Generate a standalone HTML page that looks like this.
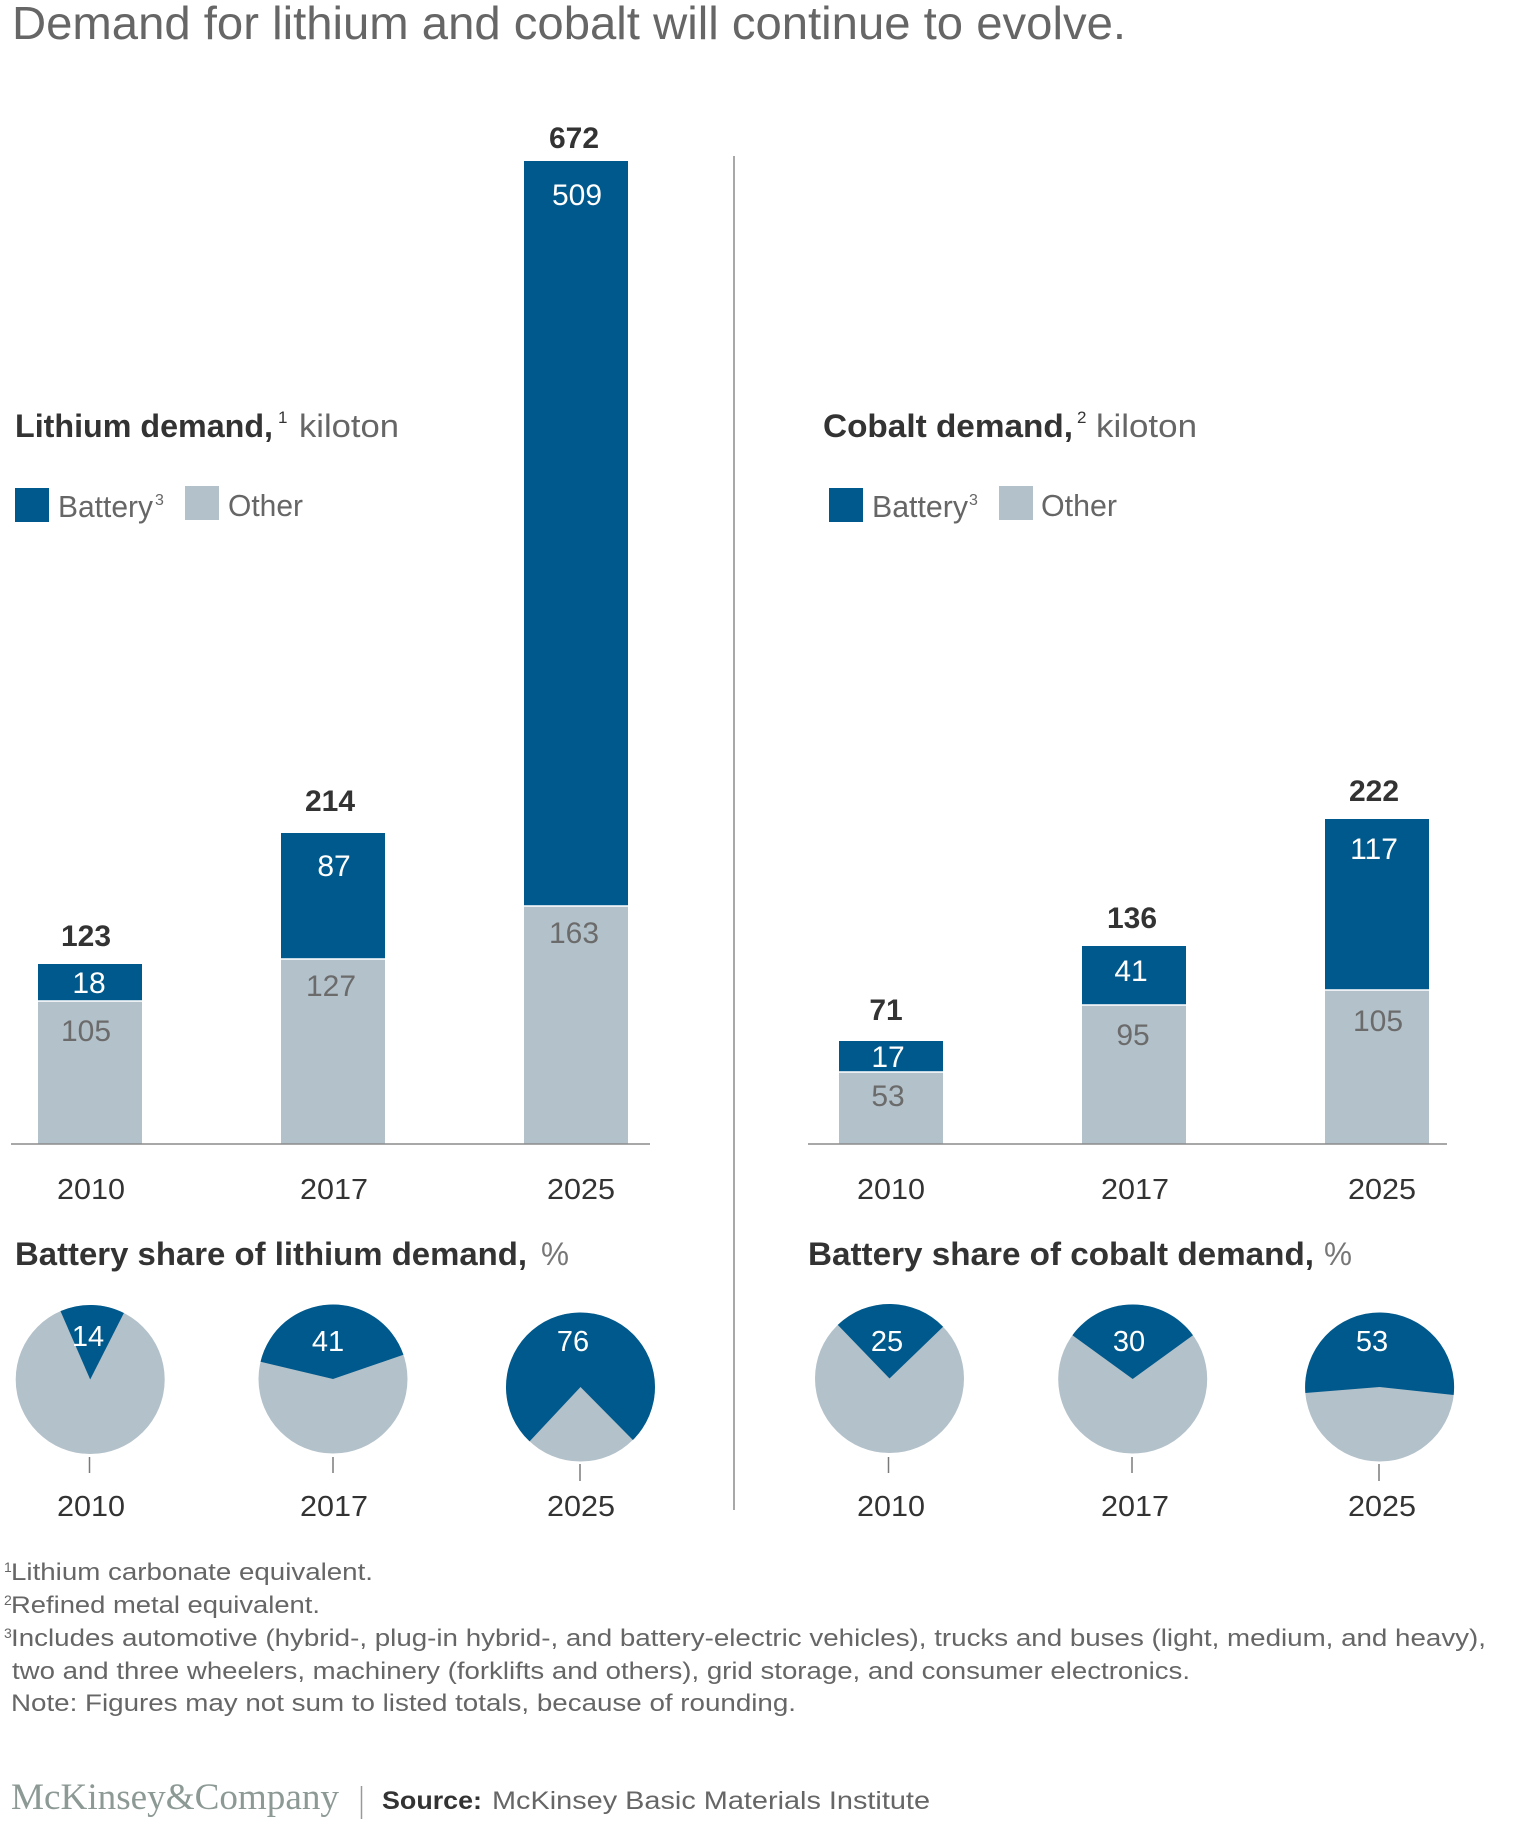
<!DOCTYPE html>
<html>
<head>
<meta charset="utf-8">
<style>
  html, body { margin: 0; padding: 0; background: #ffffff; }
  svg { display: block; }
  text { font-family: "Liberation Sans", Arial, sans-serif; }
</style>
</head>
<body>
<svg width="1536" height="1830" viewBox="0 0 1536 1830" xmlns="http://www.w3.org/2000/svg">
  <rect x="0" y="0" width="1536" height="1830" fill="#ffffff"/>

  <!-- Title -->
  <text x="12" y="39" font-size="46" fill="#666666" textLength="1114" lengthAdjust="spacingAndGlyphs">Demand for lithium and cobalt will continue to evolve.</text>

  <!-- Divider -->
  <line x1="734" y1="156" x2="734" y2="1510" stroke="#8c8c8c" stroke-width="1.5"/>

  <!-- Lithium heading -->
  <text x="15" y="437" font-size="32" font-weight="bold" fill="#333333" textLength="258" lengthAdjust="spacingAndGlyphs">Lithium demand,</text>
  <text x="278" y="423" font-size="17" fill="#333333">1</text>
  <text x="299" y="437" font-size="32" fill="#666666" textLength="100" lengthAdjust="spacingAndGlyphs">kiloton</text>

  <!-- Lithium legend -->
  <rect x="15" y="488" width="34" height="34" fill="#00598c"/>
  <text x="58" y="517" font-size="31" fill="#666666" textLength="95" lengthAdjust="spacingAndGlyphs">Battery</text>
  <text x="155" y="505" font-size="16" fill="#666666">3</text>
  <rect x="185" y="486" width="34" height="34" fill="#b3c1ca"/>
  <text x="228" y="516" font-size="31" fill="#666666" textLength="75" lengthAdjust="spacingAndGlyphs">Other</text>

  <!-- Cobalt heading -->
  <text x="823" y="437" font-size="32" font-weight="bold" fill="#333333" textLength="250" lengthAdjust="spacingAndGlyphs">Cobalt demand,</text>
  <text x="1077" y="423" font-size="17" fill="#333333">2</text>
  <text x="1096" y="437" font-size="32" fill="#666666" textLength="101" lengthAdjust="spacingAndGlyphs">kiloton</text>

  <!-- Cobalt legend -->
  <rect x="829" y="488" width="34" height="34" fill="#00598c"/>
  <text x="872" y="517" font-size="31" fill="#666666" textLength="96" lengthAdjust="spacingAndGlyphs">Battery</text>
  <text x="969" y="505" font-size="16" fill="#666666">3</text>
  <rect x="999" y="486" width="34" height="34" fill="#b3c1ca"/>
  <text x="1041" y="516" font-size="31" fill="#666666" textLength="76" lengthAdjust="spacingAndGlyphs">Other</text>

  <!-- Lithium bars -->
  <rect x="38" y="964" width="104" height="37" fill="#00598c"/>
  <rect x="38" y="1001" width="104" height="143" fill="#b3c1ca"/>
  <line x1="38" y1="1001" x2="142" y2="1001" stroke="#ffffff" stroke-width="1.5"/>

  <rect x="281" y="833" width="104" height="126" fill="#00598c"/>
  <rect x="281" y="959" width="104" height="185" fill="#b3c1ca"/>
  <line x1="281" y1="959" x2="385" y2="959" stroke="#ffffff" stroke-width="1.5"/>

  <rect x="524" y="161" width="104" height="745" fill="#00598c"/>
  <rect x="524" y="906" width="104" height="238" fill="#b3c1ca"/>
  <line x1="524" y1="906" x2="628" y2="906" stroke="#ffffff" stroke-width="1.5"/>

  <line x1="11" y1="1144" x2="650" y2="1144" stroke="#8c8c8c" stroke-width="1.5"/>

  <!-- Lithium bar labels -->
  <g font-size="30" text-anchor="middle">
    <text x="86" y="946" font-weight="bold" fill="#333333">123</text>
    <text x="330" y="811" font-weight="bold" fill="#333333">214</text>
    <text x="574" y="148" font-weight="bold" fill="#333333">672</text>
    <text x="89" y="993" fill="#ffffff">18</text>
    <text x="334" y="876" fill="#ffffff">87</text>
    <text x="577" y="205" fill="#ffffff">509</text>
    <text x="86" y="1041" fill="#6b6b6b">105</text>
    <text x="331" y="996" fill="#6b6b6b">127</text>
    <text x="574" y="943" fill="#6b6b6b">163</text>
  </g>

  <!-- Cobalt bars -->
  <rect x="839" y="1041" width="104" height="31" fill="#00598c"/>
  <rect x="839" y="1072" width="104" height="72" fill="#b3c1ca"/>
  <line x1="839" y1="1072" x2="943" y2="1072" stroke="#ffffff" stroke-width="1.5"/>

  <rect x="1082" y="946" width="104" height="59" fill="#00598c"/>
  <rect x="1082" y="1005" width="104" height="139" fill="#b3c1ca"/>
  <line x1="1082" y1="1005" x2="1186" y2="1005" stroke="#ffffff" stroke-width="1.5"/>

  <rect x="1325" y="819" width="104" height="171" fill="#00598c"/>
  <rect x="1325" y="990" width="104" height="154" fill="#b3c1ca"/>
  <line x1="1325" y1="990" x2="1429" y2="990" stroke="#ffffff" stroke-width="1.5"/>

  <line x1="808" y1="1144" x2="1447" y2="1144" stroke="#8c8c8c" stroke-width="1.5"/>

  <!-- Cobalt bar labels -->
  <g font-size="30" text-anchor="middle">
    <text x="886" y="1020" font-weight="bold" fill="#333333">71</text>
    <text x="1132" y="928" font-weight="bold" fill="#333333">136</text>
    <text x="1374" y="801" font-weight="bold" fill="#333333">222</text>
    <text x="888" y="1067" fill="#ffffff">17</text>
    <text x="1131" y="981" fill="#ffffff">41</text>
    <text x="1374" y="859" fill="#ffffff">117</text>
    <text x="888" y="1106" fill="#6b6b6b">53</text>
    <text x="1133" y="1045" fill="#6b6b6b">95</text>
    <text x="1378" y="1031" fill="#6b6b6b">105</text>
  </g>

  <!-- Year labels (bars) -->
  <g font-size="29" fill="#333333" text-anchor="middle">
    <text x="91" y="1199" textLength="68" lengthAdjust="spacingAndGlyphs">2010</text>
    <text x="334" y="1199" textLength="68" lengthAdjust="spacingAndGlyphs">2017</text>
    <text x="581" y="1199" textLength="68" lengthAdjust="spacingAndGlyphs">2025</text>
    <text x="891" y="1199" textLength="68" lengthAdjust="spacingAndGlyphs">2010</text>
    <text x="1135" y="1199" textLength="68" lengthAdjust="spacingAndGlyphs">2017</text>
    <text x="1382" y="1199" textLength="68" lengthAdjust="spacingAndGlyphs">2025</text>
  </g>

  <!-- Battery share headings -->
  <text x="15" y="1265" font-size="32" font-weight="bold" fill="#333333" textLength="512" lengthAdjust="spacingAndGlyphs">Battery share of lithium demand,</text>
  <text x="541" y="1265" font-size="32" fill="#777777" textLength="28" lengthAdjust="spacingAndGlyphs">%</text>
  <text x="808" y="1265" font-size="32" font-weight="bold" fill="#333333" textLength="506" lengthAdjust="spacingAndGlyphs">Battery share of cobalt demand,</text>
  <text x="1324" y="1265" font-size="32" fill="#777777" textLength="28" lengthAdjust="spacingAndGlyphs">%</text>

  <!-- Lithium pies -->
  <circle cx="90.2" cy="1379.5" r="74.5" fill="#b3c1ca"/>
  <path d="M90.2 1379.5 L60.50 1311.18 A74.5 74.5 0 0 1 123.90 1313.06 Z" fill="#00598c"/>

  <circle cx="333" cy="1379" r="74.5" fill="#b3c1ca"/>
  <path d="M333 1379 L260.53 1361.74 A74.5 74.5 0 0 1 403.44 1354.74 Z" fill="#00598c"/>

  <circle cx="580.5" cy="1387" r="74.5" fill="#b3c1ca"/>
  <path d="M580.5 1387 L529.59 1441.40 A74.5 74.5 0 1 1 632.90 1439.95 Z" fill="#00598c"/>

  <!-- Cobalt pies -->
  <circle cx="889.5" cy="1378.5" r="74.5" fill="#b3c1ca"/>
  <path d="M889.5 1378.5 L837.75 1324.91 A74.5 74.5 0 0 1 943.09 1326.75 Z" fill="#00598c"/>

  <circle cx="1132.7" cy="1379" r="74.5" fill="#b3c1ca"/>
  <path d="M1132.7 1379 L1072.43 1335.21 A74.5 74.5 0 0 1 1192.97 1335.21 Z" fill="#00598c"/>

  <circle cx="1379.6" cy="1387" r="74.5" fill="#b3c1ca"/>
  <path d="M1379.6 1387 L1305.34 1392.97 A74.5 74.5 0 1 1 1453.67 1395.05 Z" fill="#00598c"/>

  <!-- Pie labels -->
  <g font-size="29" fill="#ffffff" text-anchor="middle">
    <text x="88" y="1346">14</text>
    <text x="328" y="1351">41</text>
    <text x="573" y="1351">76</text>
    <text x="887" y="1351">25</text>
    <text x="1129" y="1351">30</text>
    <text x="1372" y="1351">53</text>
  </g>

  <!-- Pie ticks -->
  <g stroke="#7a7a7a" stroke-width="1.5">
    <line x1="89.5" y1="1457" x2="89.5" y2="1473"/>
    <line x1="333" y1="1457" x2="333" y2="1473"/>
    <line x1="580" y1="1464" x2="580" y2="1481"/>
    <line x1="888.5" y1="1457" x2="888.5" y2="1473"/>
    <line x1="1132" y1="1457" x2="1132" y2="1473"/>
    <line x1="1379" y1="1464" x2="1379" y2="1481"/>
  </g>

  <!-- Year labels (pies) -->
  <g font-size="29" fill="#333333" text-anchor="middle">
    <text x="91" y="1516" textLength="68" lengthAdjust="spacingAndGlyphs">2010</text>
    <text x="334" y="1516" textLength="68" lengthAdjust="spacingAndGlyphs">2017</text>
    <text x="581" y="1516" textLength="68" lengthAdjust="spacingAndGlyphs">2025</text>
    <text x="891" y="1516" textLength="68" lengthAdjust="spacingAndGlyphs">2010</text>
    <text x="1135" y="1516" textLength="68" lengthAdjust="spacingAndGlyphs">2017</text>
    <text x="1382" y="1516" textLength="68" lengthAdjust="spacingAndGlyphs">2025</text>
  </g>

  <!-- Footnotes -->
  <g fill="#666666">
    <text x="4" y="1572" font-size="14">1</text>
    <text x="11" y="1580" font-size="24" textLength="362" lengthAdjust="spacingAndGlyphs">Lithium carbonate equivalent.</text>
    <text x="4" y="1605" font-size="14">2</text>
    <text x="11" y="1613" font-size="24" textLength="309" lengthAdjust="spacingAndGlyphs">Refined metal equivalent.</text>
    <text x="4" y="1638" font-size="14">3</text>
    <text x="11" y="1646" font-size="24" textLength="1475" lengthAdjust="spacingAndGlyphs">Includes automotive (hybrid-, plug-in hybrid-, and battery-electric vehicles), trucks and buses (light, medium, and heavy),</text>
    <text x="12" y="1679" font-size="24" textLength="1178" lengthAdjust="spacingAndGlyphs">two and three wheelers, machinery (forklifts and others), grid storage, and consumer electronics.</text>
    <text x="11" y="1711" font-size="24" textLength="785" lengthAdjust="spacingAndGlyphs">Note: Figures may not sum to listed totals, because of rounding.</text>
  </g>

  <!-- Logo and source -->
  <text x="11" y="1809" font-family="Liberation Serif, serif" font-size="37" fill="#8c9994" textLength="328" lengthAdjust="spacingAndGlyphs" style="font-family:'Liberation Serif', serif;">McKinsey&amp;Company</text>
  <line x1="361.5" y1="1786" x2="361.5" y2="1819" stroke="#999999" stroke-width="1.5"/>
  <text x="382" y="1809" font-size="25" font-weight="bold" fill="#333333" textLength="100" lengthAdjust="spacingAndGlyphs">Source:</text>
  <text x="492" y="1809" font-size="25" fill="#666666" textLength="438" lengthAdjust="spacingAndGlyphs">McKinsey Basic Materials Institute</text>
</svg>
</body>
</html>
